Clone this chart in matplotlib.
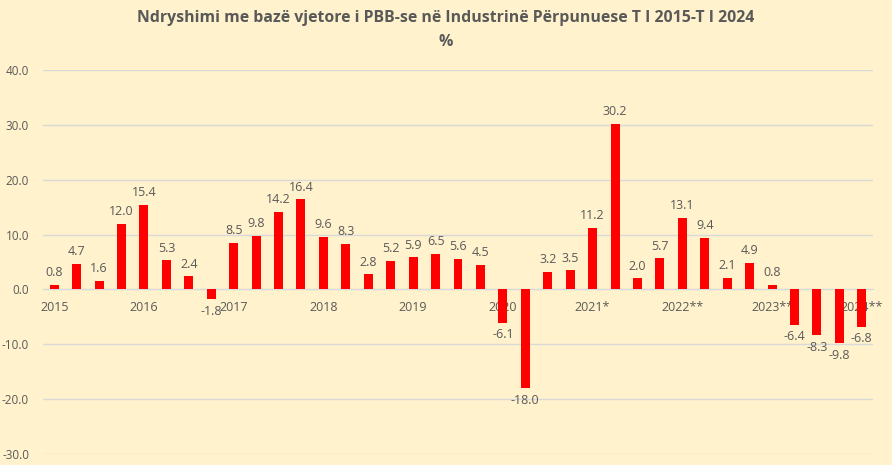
import numpy as np
import matplotlib.pyplot as plt

values = [0.8, 4.7, 1.6, 12.0, 15.4, 5.3, 2.4, -1.8, 8.5, 9.8, 14.2, 16.4,
          9.6, 8.3, 2.8, 5.2, 5.9, 6.5, 5.6, 4.5, -6.1, -18.0, 3.2, 3.5,
          11.2, 30.2, 2.0, 5.7, 13.1, 9.4, 2.1, 4.9, 0.8, -6.4, -8.3, -9.8, -6.8]
year_labels = ["2015", "2016", "2017", "2018", "2019", "2020", "2021*",
               "2022**", "2023**", "2024**"]
yticks = [-30, -20, -10, 0, 10, 20, 30, 40]

bg = "#FFF2CC"
txt = "#595959"
grid = "#D9D9D9"

fig = plt.figure(figsize=(8.92, 4.65), dpi=100, facecolor=bg)
ax = fig.add_axes([43 / 892, 11 / 465, 830 / 892, 384 / 465], facecolor=bg)

x = np.arange(len(values))
ax.bar(x, values, width=0.4, color="#FF0000", zorder=3)

for xi, v in zip(x, values):
    off = 4 if v >= 0 else -4
    ax.annotate(f"{v:.1f}", (xi, v), xytext=(0, off), textcoords="offset points",
                ha="center", va="bottom" if v >= 0 else "top",
                fontsize=9, color=txt, family="Open Sans", zorder=4)

# category axis sits on the zero line
ax.spines["bottom"].set_position(("data", 0))
ax.spines["bottom"].set_color(grid)
for s in ["top", "right", "left"]:
    ax.spines[s].set_visible(False)

ax.set_xlim(-0.5, len(values) - 0.5)
ax.set_ylim(-30, 40)
ax.set_yticks(yticks)
ax.set_yticklabels([f"{t:.1f}" for t in yticks], color=txt, fontsize=8.5, family="Open Sans")
ax.yaxis.grid(True, color=grid, linewidth=1, zorder=0)
ax.tick_params(axis="y", length=0, pad=10)

ax.set_xticks(x[::4])
ax.set_xticklabels(year_labels, color=txt, fontsize=9, family="Open Sans")
ax.tick_params(axis="x", length=0, pad=8, labelcolor=txt)

fig.text(0.5, 1 - 18 / 465, "Ndryshimi me bazë vjetore i PBB-se në Industrinë Përpunuese T I 2015-T I 2024",
         ha="center", va="center", fontsize=11.4, fontweight="bold", color=txt, family="Open Sans")
fig.text(0.5, 1 - 42 / 465, "%", ha="center", va="center", fontsize=11.4,
         fontweight="bold", color=txt, family="Open Sans")

fig.savefig("out.png", dpi=100, facecolor=bg)
